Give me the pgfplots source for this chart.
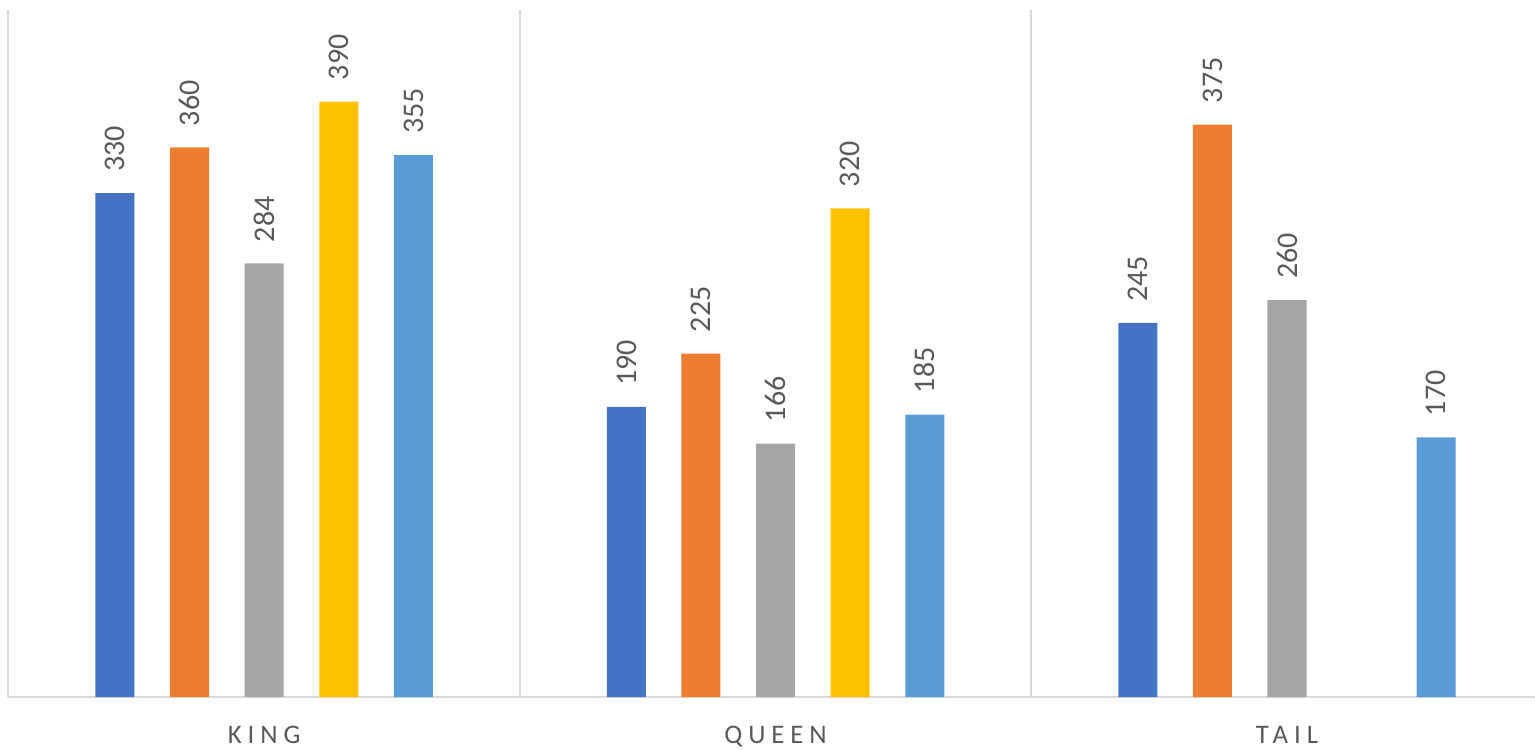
\documentclass[border=0pt]{standalone}
\usepackage{pgfplots}
\pgfplotsset{compat=1.18}
\usepackage{fontspec}
\setmainfont{Carlito}
\definecolor{c1}{HTML}{4472C4}
\definecolor{c2}{HTML}{ED7D31}
\definecolor{c3}{HTML}{A5A5A5}
\definecolor{c4}{HTML}{FFC000}
\definecolor{c5}{HTML}{5B9BD5}
\definecolor{txt}{HTML}{595959}
\definecolor{gridc}{HTML}{D9D9D9}
\begin{document}
\begin{tikzpicture}
\begin{axis}[name=ax, scale only axis, width=763.25pt, height=343.5pt,
  xmin=-0.5, xmax=2.485, ymin=0, ymax=450,
  /pgf/number format/assume math mode=true,
  axis lines*=left,
  axis line style={draw=gridc, line width=1pt, -},
  ytick=\empty,
  xtick={0,1,2},
  xticklabels={KING,QUEEN,TAIL},
  major tick length=0pt,
  extra x ticks={0.5,1.5},
  extra x tick labels={},
  extra x tick style={grid=major, major grid style={draw=gridc, line width=1pt}},
  xticklabel style={anchor=base, yshift=-23pt, text=txt,
    font=\fontsize{13.4}{16}\selectfont\addfontfeature{LetterSpace=22}},
  ybar, bar width=0.0763,
  clip=false,
  nodes near coords,
  every node near coord/.append style={rotate=90, anchor=west, inner xsep=10.5pt, inner ysep=0pt,
    text=txt, font=\fontsize{15}{18}\selectfont},
]
\addplot[fill=c1, draw=none, bar shift=-0.2918] coordinates {(0,330) (1,190) (2,245)};
\addplot[fill=c2, draw=none, bar shift=-0.1459] coordinates {(0,360) (1,225) (2,375)};
\addplot[fill=c3, draw=none, bar shift=0] coordinates {(0,284) (1,166) (2,260)};
\addplot[fill=c4, draw=none, bar shift=0.1459] coordinates {(0,390) (1,320)};
\addplot[fill=c5, draw=none, bar shift=0.2918] coordinates {(0,355) (1,185) (2,170)};
\end{axis}
\pgfresetboundingbox
\useasboundingbox ([shift={(-4.25pt,-26pt)}]ax.south west) rectangle ([shift={(0pt,5pt)}]ax.north east);
\end{tikzpicture}
\end{document}
